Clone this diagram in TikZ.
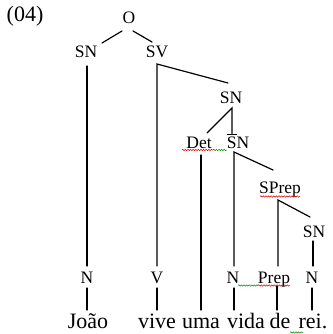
\documentclass[tikz,border=0pt]{standalone}
\usepackage{fontspec}
\setmainfont{Liberation Serif}
\usetikzlibrary{calc,decorations.pathmorphing}
\begin{document}
\begin{tikzpicture}[x=1pt,y=-1pt,
  lbl/.style={anchor=base,inner sep=0pt,font=\fontsize{17.5}{17.5}\selectfont},
  wrd/.style={anchor=base,inner sep=0pt,font=\fontsize{22}{22}\selectfont},
  br/.style={line width=1.2pt,line cap=round},
  redwave/.style={draw=red!85!black,line width=0.5pt,decorate,decoration={snake,amplitude=0.7pt,segment length=2.6pt}},
  greenwave/.style={draw=green!55!black,line width=0.5pt,decorate,decoration={snake,amplitude=0.7pt,segment length=2.6pt}}]
\useasboundingbox (0,0) rectangle (332,334);
% labels
\node[wrd] (num) at (25,22) {(04)};
\node[lbl] (O) at (129,23.5) {O};
\node[lbl] (SNa) at (86,58) {SN};
\node[lbl] (SV) at (157,58) {SV};
\node[lbl] (SNb) at (231,103) {SN};
\node[lbl] (Det) at (199,148) {Det};
\node[lbl] (SNbar) at (238,148) {SN};
\node[lbl] (SPrep) at (280,193) {SPrep};
\node[lbl] (SNc) at (314,237.5) {SN};
\node[lbl] (Na) at (87,283) {N};
\node[lbl] (V) at (157,283) {V};
\node[lbl] (Nb) at (233,283) {N};
\node[lbl] (Prep) at (274,283) {Prep};
\node[lbl] (Nc) at (312,283) {N};
% words
\node[wrd] (joao) at (88,328) {João};
\node[wrd] (vive) at (157,328) {vive};
\node[wrd] (uma) at (201,328) {uma};
\node[wrd] (vida) at (246,328) {vida};
\node[wrd] (de) at (280,328) {de};
\node[wrd] (rei) at (313,328) {rei.};
% bar over S of SN
\draw[line width=0.8pt] (227,134) -- (237,134);
% branches
\draw[br] ($(O.base)+(-7,7.5)$) -- ($(SNa.base)+(16,-15)$);
\draw[br] ($(O.base)+(4,7.5)$) -- ($(SV.base)+(-5,-16)$);
\draw[br] ($(SNa.base)+(1,8)$) -- ($(Na.base)+(0,-17)$);
\draw[br] ($(Na.base)+(0,5)$) -- ($(joao.base)+(-1,-18)$);
\coordinate (svc) at ($(SV.base)+(0,6)$);
\draw[br] ($(V.base)+(0,-17)$) -- (svc) -- ($(SNb.base)+(-3,-20)$);
\draw[br] ($(V.base)+(0,5)$) -- ($(vive.base)+(0,-18)$);
\coordinate (snbc) at ($(SNb.base)+(1,5)$);
\draw[br] ($(Det.base)+(8,-15)$) -- (snbc) -- (232,133.5);
\draw[br] ($(Det.base)+(2,7)$) -- ($(uma.base)+(0,-18)$);
\coordinate (snbarc) at (234,152);
\draw[br] ($(Nb.base)+(1,-17)$) -- (snbarc) -- ($(SPrep.base)+(-7,-23)$);
\draw[br] ($(Nb.base)+(1,5)$) -- ($(vida.base)+(-12,-18)$);
\coordinate (sprepc) at ($(SPrep.base)+(-2,7)$);
\draw[br] ($(Prep.base)+(4,-17)$) -- (sprepc) -- ($(SNc.base)+(-4,-20.5)$);
\draw[br] ($(Prep.base)+(3,3)$) -- ($(de.base)+(-3,-18)$);
\draw[br] ($(SNc.base)+(-1,3.5)$) -- ($(Nc.base)+(1,-17)$);
\draw[br] ($(Nc.base)+(0,5)$) -- ($(rei.base)+(-1,-18)$);
% spell-check underlines
\draw[redwave] (182,150) -- (213,150);
\draw[greenwave] (213,150) -- (227,150);
\draw[redwave] (260,196.5) -- (300,196.5);
\draw[greenwave] (238,285.5) -- (258,285.5);
\draw[redwave] (258,285.5) -- (290,285.5);
\draw[greenwave] (290,332.5) -- (303,332.5);
\end{tikzpicture}
\end{document}
